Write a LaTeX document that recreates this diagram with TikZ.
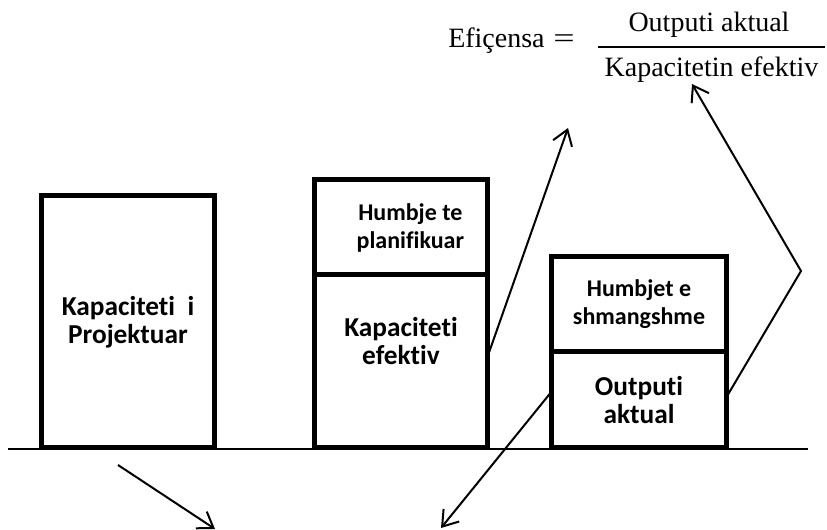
\documentclass[tikz,border=0pt]{standalone}
\usepackage{fontspec}
\setmainfont{Liberation Serif}
\newfontfamily\boxfont[Ligatures=NoCommon]{Carlito}
\usetikzlibrary{arrows.meta, positioning}

\begin{document}
\begin{tikzpicture}[
    x=0.75pt, y=-0.75pt,
    block/.style={draw, line width=3.75pt, inner sep=0pt, outer sep=0pt},
    boxtext/.style={align=center, font=\boxfont\bfseries\fontsize{20.5}{21}\selectfont},
    smalltext/.style={align=center, font=\boxfont\bfseries\fontsize{18}{20.5}\selectfont},
    formula/.style={inner sep=0pt, font=\fontsize{21}{25}\selectfont},
    arrow/.style={-{Straight Barb[length=11pt, width=15pt]}, line width=1.5pt}
]
    \useasboundingbox (0,0) rectangle (827,530);

    % ground line
    \coordinate (groundL) at (8,449);
    \coordinate (groundR) at (808,449);
    \draw[line width=1.4pt] (groundL) -- (groundR);

    % blocks
    \node[block, anchor=north west, minimum width=129.75pt, minimum height=188.6pt] (design) at (41.5,196) {};
    \node[block, anchor=north west, minimum width=129.75pt, minimum height=70.9pt] (plan) at (314.5,179.5) {};
    \node[block, below=0pt of plan, minimum width=129.75pt, minimum height=130.1pt] (kapef) {};
    \node[block, anchor=north west, minimum width=131.25pt, minimum height=71.6pt] (avoid) at (551.5,256.5) {};
    \node[block, below=0pt of avoid, minimum width=131.25pt, minimum height=71.6pt] (outputi) {};

    % block texts
    \node[boxtext] (designtext) at (design.center) {Kapaciteti\ \ i\\Projektuar};
    \node[smalltext] (plantext) at ([xshift=7pt, yshift=-1pt]plan.center) {Humbje te\\planifikuar};
    \node[boxtext] (kapeftext) at ([yshift=15pt]kapef.center) {Kapaciteti\\efektiv};
    \node[smalltext] (avoidtext) at (avoid.center) {Humbjet e\\shmangshme};
    \node[boxtext] (outputitext) at (outputi.center) {Outputi\\aktual};

    % formula
    \node[formula, anchor=base west] (effname) at (448,48) {Efiçensa};
    \node[formula, anchor=base] (eq) at (564,48) {\scalebox{1.35}[1]{=}};
    \node[formula, anchor=base] (num) at (709,32) {Outputi aktual};
    \node[formula, anchor=base] (den) at (711.5,77) {Kapacitetin efektiv};
    \coordinate (barL) at (598,47);
    \coordinate (barR) at (825,47);
    \draw[line width=0.9pt] (barL) -- (barR);

    % arrows
    \coordinate (tipA) at (568,128);
    \coordinate (bendB) at (801,271);
    \coordinate (tipB) at (692,84);
    \coordinate (tipC) at (441,528);
    \coordinate (startD) at (118,465);
    \coordinate (tipD) at (215,529);

    \draw[arrow] ([yshift=3pt]kapef.east) -- (tipA);
    \draw[arrow] ([yshift=2pt]outputi.east) -- (bendB) -- (tipB);
    \draw[arrow] ([yshift=6pt]outputi.west) -- (tipC);
    \draw[arrow] (startD) -- (tipD);
\end{tikzpicture}
\end{document}
